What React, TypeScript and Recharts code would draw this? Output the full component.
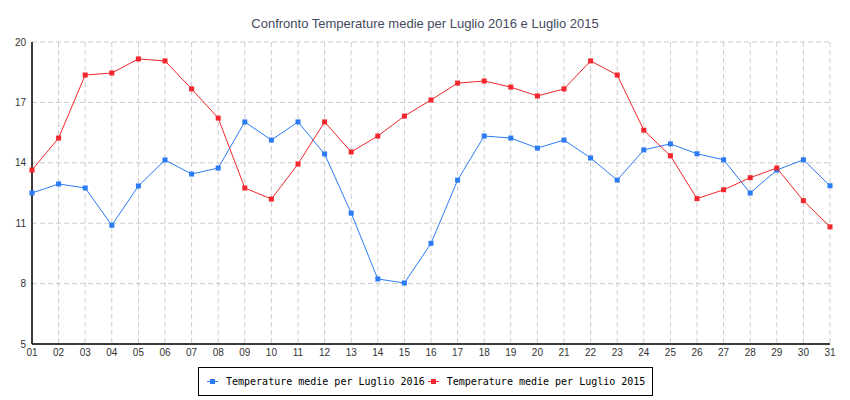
import React from 'react';
import { LineChart, Line, XAxis, YAxis, CartesianGrid } from 'recharts';

const days = [
  '01', '02', '03', '04', '05', '06', '07', '08', '09', '10',
  '11', '12', '13', '14', '15', '16', '17', '18', '19', '20',
  '21', '22', '23', '24', '25', '26', '27', '28', '29', '30', '31',
];

const media2016 = [
  12.5, 12.95, 12.75, 10.9, 12.85, 14.14, 13.44, 13.74, 16.03, 15.13,
  16.03, 14.44, 11.5, 8.23, 8.03, 10.0, 13.14, 15.33, 15.23, 14.73,
  15.13, 14.24, 13.14, 14.64, 14.94, 14.45, 14.15, 12.5, 13.64, 14.15, 12.86,
];

const media2015 = [
  13.64, 15.23, 18.36, 18.46, 19.16, 19.06, 17.67, 16.22, 12.75, 12.2,
  13.94, 16.03, 14.54, 15.33, 16.32, 17.12, 17.96, 18.06, 17.76, 17.32,
  17.67, 19.06, 18.36, 15.62, 14.35, 12.22, 12.66, 13.26, 13.74, 12.12, 10.82,
];

const majorTicks = [5, 8, 11, 14, 17, 20];
const minorTicks = [5, 6, 7, 8, 9, 10, 11, 12, 13, 14, 15, 16, 17, 18, 19, 20];

const label2016 = 'Temperature medie per Luglio 2016';
const label2015 = 'Temperature medie per Luglio 2015';

const BLUE = '#2b7cf4';
const RED = '#f2262c';

const chartData = days.map((d, i) => ({
  day: d,
  t2016: media2016[i],
  t2015: media2015[i],
}));

const squareDot = (color: string) => (props: any) => {
  const { cx, cy, index } = props;
  if (cx == null || cy == null) return <g key={index} />;
  return <rect key={index} x={cx - 2.5} y={cy - 2.5} width={5} height={5} fill={color} />;
};

const tickStyle = { fontSize: 10, fill: '#333', fontFamily: 'Liberation Sans, sans-serif' };

function LegendItem({ color, text, gap }: { color: string; text: string; gap: number }) {
  return (
    <div style={{ display: 'flex', alignItems: 'center', marginLeft: gap }}>
      <svg width={11} height={5} style={{ marginRight: 8 }}>
        <line x1={0} y1={2.5} x2={11} y2={2.5} stroke={color} strokeWidth={1} />
        <rect x={3} y={0} width={5} height={5} fill={color} />
      </svg>
      <span>{text}</span>
    </div>
  );
}

export default function App() {
  return (
    <div style={{ position: 'absolute', left: 0, top: 0, width: 850, height: 400, background: '#fff' }}>
      <div
        style={{
          position: 'absolute',
          left: 0,
          top: 16,
          width: 850,
          textAlign: 'center',
          fontFamily: 'Liberation Sans, sans-serif',
          fontSize: 13,
          color: '#444a5e',
        }}
      >
        Confronto Temperature medie per Luglio 2016 e Luglio 2015
      </div>
      <LineChart
        width={850}
        height={400}
        data={chartData}
        margin={{ top: 42, right: 20, left: 0, bottom: 0 }}
      >
        <CartesianGrid stroke="#cccccc" strokeDasharray="5 3" />
        <XAxis
          dataKey="day"
          interval={0}
          height={56}
          tickLine={false}
          tickSize={4}
          tickMargin={1}
          axisLine={{ stroke: '#000' }}
          tick={tickStyle}
        />
        <XAxis
          xAxisId="inner"
          dataKey="day"
          interval={0}
          mirror
          tick={false}
          tickSize={4}
          tickLine={{ stroke: '#000' }}
          axisLine={{ stroke: '#000' }}
        />
        <YAxis
          width={32}
          domain={[5, 20]}
          ticks={majorTicks}
          interval={0}
          tickLine={false}
          tickSize={4}
          tickMargin={2}
          axisLine={{ stroke: '#000' }}
          tick={tickStyle}
        />
        <YAxis
          yAxisId="minor"
          mirror
          domain={[5, 20]}
          ticks={minorTicks}
          interval={0}
          tick={false}
          tickSize={4}
          tickLine={{ stroke: '#000' }}
          axisLine={{ stroke: '#000' }}
        />
        <Line
          dataKey="t2016"
          stroke={BLUE}
          strokeWidth={1}
          dot={squareDot(BLUE)}
          activeDot={false}
          isAnimationActive={false}
        />
        <Line
          dataKey="t2015"
          stroke={RED}
          strokeWidth={1}
          dot={squareDot(RED)}
          activeDot={false}
          isAnimationActive={false}
        />
      </LineChart>
      <div
        style={{
          position: 'absolute',
          left: 198,
          top: 367,
          width: 453,
          height: 27,
          border: '1px solid #000',
          display: 'flex',
          alignItems: 'center',
          fontFamily: 'DejaVu Sans Mono, monospace',
          fontSize: 10,
          color: '#000',
          whiteSpace: 'nowrap',
        }}
      >
        <LegendItem color={BLUE} text={label2016} gap={8} />
        <LegendItem color={RED} text={label2015} gap={3} />
      </div>
    </div>
  );
}
